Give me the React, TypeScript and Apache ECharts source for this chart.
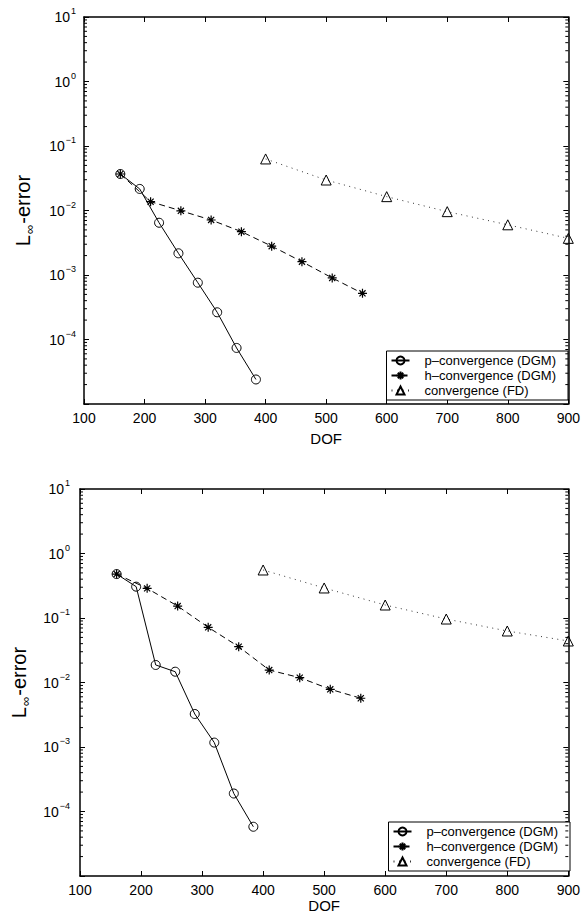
import React, { useEffect, useRef } from 'react';
import * as echarts from 'echarts';

// ---------- data ----------
const P_DOF = [160, 192, 224, 256, 288, 320, 352, 384];
const H_DOF = [160, 210, 260, 310, 360, 410, 460, 510, 560];
const FD_DOF = [400, 500, 600, 700, 800, 900];

// top panel
const P_TOP = [0.0368, 0.0216, 0.00646, 0.00217, 0.00076, 0.000264, 7.4e-5, 2.4e-5];
const H_TOP = [0.0368, 0.0137, 0.0099, 0.00713, 0.0047, 0.0028, 0.00161, 0.0009, 0.00052];
const FD_TOP = [0.063, 0.0297, 0.0164, 0.0096, 0.006, 0.0037];

// bottom panel
const P_BOT = [0.48, 0.306, 0.0187, 0.0147, 0.00325, 0.00117, 1.9e-4, 5.8e-5];
const H_BOT = [0.48, 0.288, 0.153, 0.0718, 0.0359, 0.0156, 0.0119, 0.00785, 0.0057];
const FD_BOT = [0.555, 0.292, 0.159, 0.0964, 0.0629, 0.044];

const NAMES = ['p–convergence (DGM)', 'h–convergence (DGM)', 'convergence (FD)'];
const X_MIN = 100;
const X_MAX = 900;
const X_STEP = 100;
const Y_MIN = 1e-5;
const Y_MAX = 10;
const MINOR_MANTISSA = [2, 3, 4, 5, 6, 7, 8, 9];
const MINOR_DECADES = [-5, -4, -3, -2, -1, 0];

const FONT = "'Liberation Sans', Arial, Helvetica, sans-serif";
const ASTERISK = 'path://M5,0L5,10M0,5L10,5M1.6,1.6L8.4,8.4M1.6,8.4L8.4,1.6';

const zip = (xs: number[], ys: number[]) => xs.map((x, i) => [x, ys[i]]);

const supLabel = (v: number) => {
  const e = Math.round(Math.log10(v));
  if (e === -5) return '';
  return `{b|10}{s|${e < 0 ? '−' + -e : e}}`;
};

const minorValues = MINOR_DECADES.flatMap((d) => MINOR_MANTISSA.map((m) => [X_MIN, m * Math.pow(10, d)]));

function buildOption() {
  const grids = [
    { left: 84, right: 11, top: 17, height: 387 },
    { left: 80, right: 14, top: 489, height: 387 },
  ];
  const xNameGap = [27, 22];
  const yNameGap = [48, 44];
  const yLabelMargin = [8, 10];
  const xAxis: any[] = [];
  const yAxis: any[] = [];
  const axisLine = { show: true, onZero: false, lineStyle: { color: '#000', width: 1.5 } };
  grids.forEach((_, g) => {
    xAxis.push({
      gridIndex: g, type: 'value', min: X_MIN, max: X_MAX, interval: X_STEP, position: 'bottom',
      axisLine, axisTick: { inside: true, length: 5, lineStyle: { color: '#000', width: 1 } },
      axisLabel: { color: '#000', fontSize: 14, margin: 7, fontFamily: FONT },
      splitLine: { show: false },
      name: 'DOF', nameLocation: 'middle', nameGap: xNameGap[g],
      nameTextStyle: { color: '#000', fontSize: 15, fontFamily: FONT },
    });
    xAxis.push({
      gridIndex: g, type: 'value', min: X_MIN, max: X_MAX, interval: X_STEP, position: 'top',
      axisLine, axisTick: { inside: true, length: 5, lineStyle: { color: '#000', width: 1 } },
      axisLabel: { show: false }, splitLine: { show: false },
    });
    yAxis.push({
      gridIndex: g, type: 'log', logBase: 10, min: Y_MIN, max: Y_MAX, position: 'left',
      axisLine, axisTick: { inside: true, length: 5, lineStyle: { color: '#000', width: 1 } },
      axisLabel: {
        color: '#000', margin: yLabelMargin[g], formatter: supLabel, fontFamily: FONT,
        rich: {
          b: { fontSize: 14, color: '#000', fontFamily: FONT },
          s: { fontSize: 9, color: '#000', fontFamily: FONT, padding: [0, 0, 12, 1] },
        },
      },
      splitLine: { show: false },
      name: '{l|L}{i|∞}{l|-error}', nameLocation: 'middle', nameGap: yNameGap[g],
      nameTextStyle: {
        color: '#000', fontFamily: FONT, fontSize: 20,
        rich: {
          l: { fontSize: 20, color: '#000', fontFamily: FONT },
          i: { fontSize: 13, color: '#000', fontFamily: FONT, padding: [13, 1, 0, 1] },
        },
      },
    });
    yAxis.push({
      gridIndex: g, type: 'log', logBase: 10, min: Y_MIN, max: Y_MAX, position: 'right',
      axisLine, axisTick: { inside: true, length: 5, lineStyle: { color: '#000', width: 1 } },
      axisLabel: { show: false }, splitLine: { show: false },
    });
  });

  const data = [
    [P_TOP, H_TOP, FD_TOP],
    [P_BOT, H_BOT, FD_BOT],
  ];
  const series: any[] = [];
  data.forEach((set, g) => {
    const xi = g * 2;
    const yi = g * 2;
    series.push({
      type: 'custom', name: 'minor' + g, xAxisIndex: xi, yAxisIndex: yi, silent: true, z: 5,
      data: minorValues,
      renderItem: (params: any, api: any) => {
        const y = api.coord([api.value(0), api.value(1)])[1];
        const cs = params.coordSys;
        return {
          type: 'group',
          children: [
            { type: 'line', shape: { x1: cs.x, y1: y, x2: cs.x + 3, y2: y }, style: { stroke: '#000', lineWidth: 1 } },
            { type: 'line', shape: { x1: cs.x + cs.width - 3, y1: y, x2: cs.x + cs.width, y2: y }, style: { stroke: '#000', lineWidth: 1 } },
          ],
        };
      },
    });
    series.push({
      type: 'line', name: NAMES[0], xAxisIndex: xi, yAxisIndex: yi,
      data: zip(P_DOF, set[0]), symbol: 'circle', symbolSize: 9,
      itemStyle: { color: 'rgba(0,0,0,0)', borderColor: '#000', borderWidth: 1 },
      lineStyle: { color: '#000', width: 1, type: 'solid' },
    });
    series.push({
      type: 'line', name: NAMES[1], xAxisIndex: xi, yAxisIndex: yi,
      data: zip(H_DOF, set[1]), symbol: ASTERISK, symbolSize: 9,
      itemStyle: { color: '#000', borderColor: '#000', borderWidth: 1.2 },
      lineStyle: { color: '#000', width: 1, type: [6, 4] },
    });
    series.push({
      type: 'line', name: NAMES[2], xAxisIndex: xi, yAxisIndex: yi,
      data: zip(FD_DOF, set[2]), symbol: 'triangle', symbolSize: 10,
      itemStyle: { color: 'rgba(0,0,0,0)', borderColor: '#000', borderWidth: 1 },
      lineStyle: { color: '#333', width: 1, type: [1, 4.5] },
    });
  });

  const legendBase = {
    data: NAMES, orient: 'vertical', selectedMode: false,
    backgroundColor: '#fff', borderColor: '#000', borderWidth: 1, borderRadius: 0,
    padding: [3, 12, 3, 4], itemGap: 2, itemWidth: 18, itemHeight: 10,
    textStyle: { fontSize: 13, color: '#000', fontFamily: FONT, padding: [0, 0, 0, 10] },
  };

  return {
    animation: false,
    backgroundColor: '#fff',
    textStyle: { fontFamily: FONT },
    grid: grids.map((g) => ({ ...g, containLabel: false })),
    xAxis,
    yAxis,
    legend: [
      { ...legendBase, right: 15, top: 351 },
      { ...legendBase, right: 13, top: 822 },
    ],
    series,
  };
}

export default function App() {
  const ref = useRef<HTMLDivElement>(null);
  useEffect(() => {
    if (!ref.current) return;
    const chart = echarts.init(ref.current, null, { renderer: 'svg' });
    chart.setOption(buildOption() as any);
    return () => chart.dispose();
  }, []);
  return <div ref={ref} style={{ position: 'fixed', left: 0, top: 0, width: 583, height: 919, background: '#fff' }} />;
}
